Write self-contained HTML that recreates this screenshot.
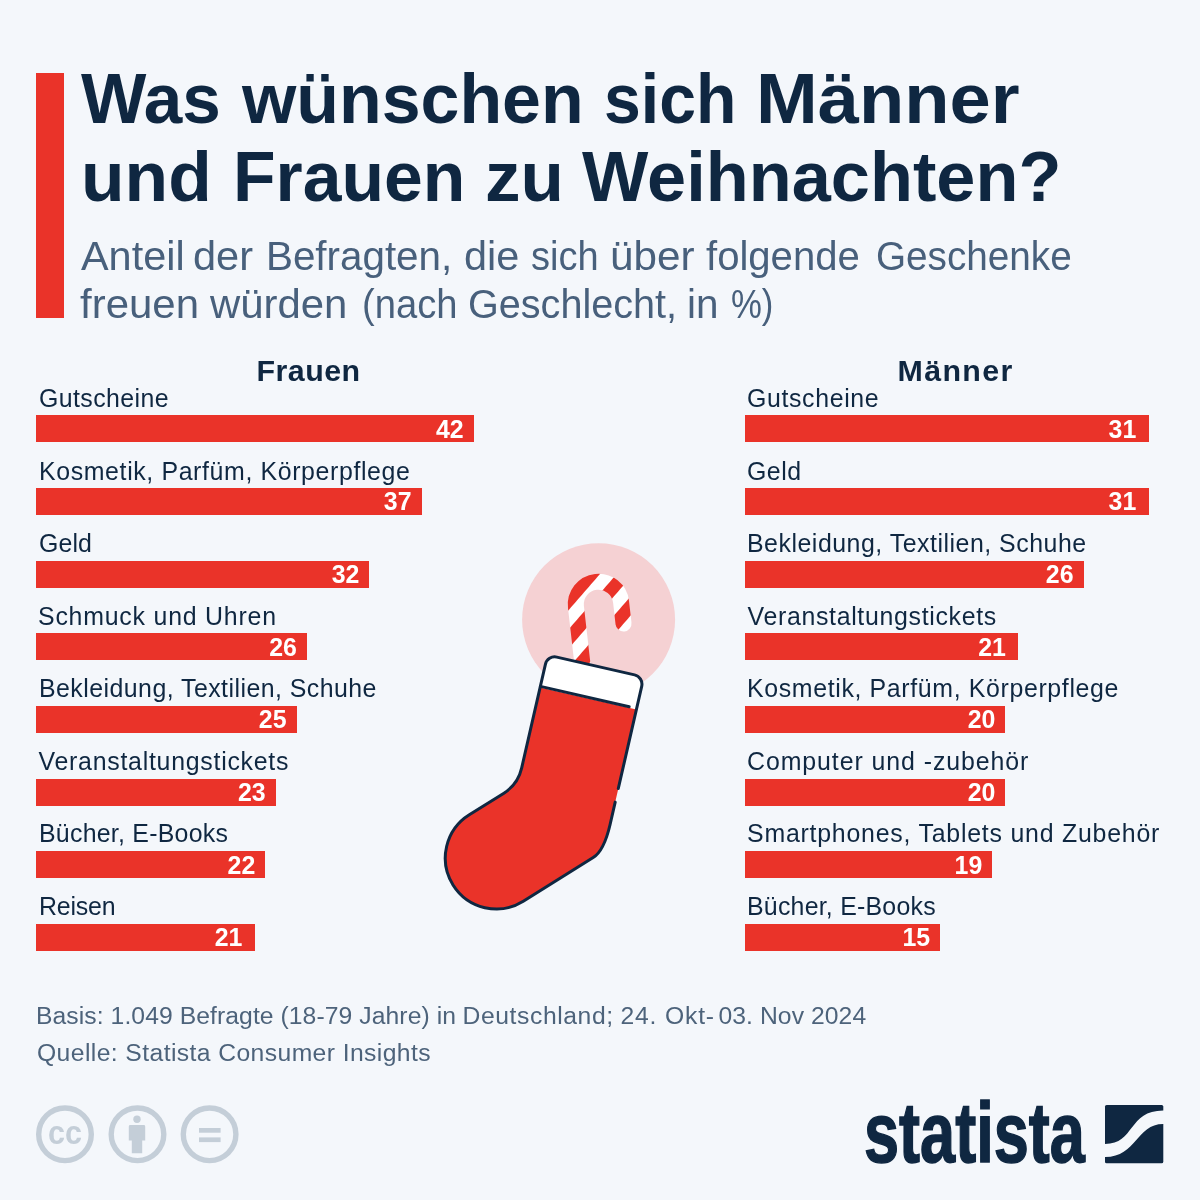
<!DOCTYPE html>
<html lang="de">
<head>
<meta charset="utf-8">
<title>Was wünschen sich Männer und Frauen zu Weihnachten?</title>
<style>
html,body{margin:0;padding:0;}
body{width:1200px;height:1200px;background:#f4f7fb;position:relative;overflow:hidden;
  font-family:"Liberation Sans",sans-serif;color:#0f2741;}
h1,h2,p{margin:0;padding:0;font-size:inherit;font-weight:inherit;}
.abs{position:absolute;white-space:nowrap;line-height:1;display:block;}
#accent{left:36px;top:73px;width:28px;height:244.5px;background:#ea3329;}
.title{font-weight:bold;color:#0f2741;transform-origin:0 0;}
.sub{color:#48607c;transform-origin:0 0;}
.head{font-weight:bold;color:#0f2741;}
.lbl{color:#0f2741;}
.bar{position:absolute;height:27px;background:#ea3329;}
.val{font-weight:bold;font-size:24.9px;color:#fff;}
.foot{color:#4d637b;}
</style>
</head>
<body>
<header>
<div id="accent" class="abs"></div>
<h1>
<span class="abs title" id="t1a" style="left:80.78px;top:63px;font-size:71.0px;transform:scaleX(0.9759)">Was </span>
<span class="abs title" id="t1b" style="left:242.00px;top:63px;font-size:71.0px;transform:scaleX(0.9840)">wünschen </span>
<span class="abs title" id="t1c" style="left:603.69px;top:63px;font-size:71.0px;transform:scaleX(0.9315)">sich </span>
<span class="abs title" id="t1d" style="left:756.29px;top:63px;font-size:71.0px;transform:scaleX(1.0435)">Männer </span>
<span class="abs title" id="t2a" style="left:80.77px;top:141px;font-size:71.0px;transform:scaleX(1.0050)">und </span>
<span class="abs title" id="t2b" style="left:233.08px;top:141px;font-size:71.0px;transform:scaleX(0.9814)">Frauen </span>
<span class="abs title" id="t2c" style="left:485.00px;top:141px;font-size:71.0px;transform:scaleX(1.0000)">zu </span>
<span class="abs title" id="t2d" style="left:582.00px;top:141px;font-size:71.0px;transform:scaleX(0.9906)">Weihnachten? </span>
</h1>
<p>
<span class="abs sub" id="s1a" style="left:80.50px;top:236px;font-size:40.8px;transform:scaleX(1.0152)">Anteil </span>
<span class="abs sub" id="s1b" style="left:192.97px;top:236px;font-size:40.8px;transform:scaleX(1.0175)">der </span>
<span class="abs sub" id="s1c" style="left:265.54px;top:236px;font-size:40.8px;transform:scaleX(0.9890)">Befragten, </span>
<span class="abs sub" id="s1d" style="left:464.47px;top:236px;font-size:40.8px;transform:scaleX(1.0147)">die </span>
<span class="abs sub" id="s1e" style="left:531.07px;top:236px;font-size:40.8px;transform:scaleX(0.9312)">sich </span>
<span class="abs sub" id="s1f" style="left:609.93px;top:236px;font-size:40.8px;transform:scaleX(1.0348)">über </span>
<span class="abs sub" id="s1g" style="left:705.51px;top:236px;font-size:40.8px;transform:scaleX(0.9821)">folgende </span>
<span class="abs sub" id="s1h" style="left:876.08px;top:236px;font-size:40.8px;transform:scaleX(0.9483)">Geschenke </span>
<span class="abs sub" id="s2a" style="left:80.49px;top:284px;font-size:40.8px;transform:scaleX(1.0288)">freuen </span>
<span class="abs sub" id="s2b" style="left:210.00px;top:284px;font-size:40.8px;transform:scaleX(1.0267)">würden </span>
<span class="abs sub" id="s2c" style="left:361.64px;top:284px;font-size:40.8px;transform:scaleX(0.9356)">(nach </span>
<span class="abs sub" id="s2d" style="left:468.06px;top:284px;font-size:40.8px;transform:scaleX(0.9702)">Geschlecht, </span>
<span class="abs sub" id="s2e" style="left:686.52px;top:284px;font-size:40.8px;transform:scaleX(0.9907)">in </span>
<span class="abs sub" id="s2f" style="left:731.15px;top:284px;font-size:40.8px;transform:scaleX(0.8511)">%) </span>
</p>
</header>
<main>
<section>
<h2><span class="abs head" id="hF" style="left:256.50px;top:355px;font-size:30.4px;letter-spacing:0.450px">Frauen</span></h2>
<div class="row">
<div class="abs lbl" id="Fl0" style="left:39.00px;top:386px;font-size:24.9px;letter-spacing:0.417px">Gutscheine</div>
<div class="bar" id="Fb0" style="left:36.0px;top:415.30px;width:437.64px"></div>
<div class="abs val" id="Fv0" style="right:736.36px;top:417px">42</div>
</div>
<div class="row">
<div class="abs lbl" id="Fl1" style="left:39.00px;top:459px;font-size:24.9px;letter-spacing:0.624px">Kosmetik, Parfüm, Körperpflege</div>
<div class="bar" id="Fb1" style="left:36.0px;top:487.98px;width:385.54px"></div>
<div class="abs val" id="Fv1" style="right:788.46px;top:489px">37</div>
</div>
<div class="row">
<div class="abs lbl" id="Fl2" style="left:39.00px;top:531px;font-size:24.9px;letter-spacing:0.100px">Geld</div>
<div class="bar" id="Fb2" style="left:36.0px;top:560.66px;width:333.44px"></div>
<div class="abs val" id="Fv2" style="right:840.56px;top:562px">32</div>
</div>
<div class="row">
<div class="abs lbl" id="Fl3" style="left:38.00px;top:604px;font-size:24.9px;letter-spacing:0.781px">Schmuck und Uhren</div>
<div class="bar" id="Fb3" style="left:36.0px;top:633.34px;width:270.92px"></div>
<div class="abs val" id="Fv3" style="right:903.08px;top:635px">26</div>
</div>
<div class="row">
<div class="abs lbl" id="Fl4" style="left:39.00px;top:676px;font-size:24.9px;letter-spacing:0.455px">Bekleidung, Textilien, Schuhe</div>
<div class="bar" id="Fb4" style="left:36.0px;top:706.02px;width:260.50px"></div>
<div class="abs val" id="Fv4" style="right:913.50px;top:707px">25</div>
</div>
<div class="row">
<div class="abs lbl" id="Fl5" style="left:38.50px;top:749px;font-size:24.9px;letter-spacing:0.738px">Veranstaltungstickets</div>
<div class="bar" id="Fb5" style="left:36.0px;top:778.70px;width:239.66px"></div>
<div class="abs val" id="Fv5" style="right:934.34px;top:780px">23</div>
</div>
<div class="row">
<div class="abs lbl" id="Fl6" style="left:39.00px;top:821px;font-size:24.9px;letter-spacing:0.250px">Bücher, E-Books</div>
<div class="bar" id="Fb6" style="left:36.0px;top:851.38px;width:229.24px"></div>
<div class="abs val" id="Fv6" style="right:944.76px;top:853px">22</div>
</div>
<div class="row">
<div class="abs lbl" id="Fl7" style="left:39.00px;top:894px;font-size:24.9px;letter-spacing:-0.180px">Reisen</div>
<div class="bar" id="Fb7" style="left:36.0px;top:924.06px;width:218.82px"></div>
<div class="abs val" id="Fv7" style="right:957.68px;top:925px">21</div>
</div>
</section>
<section>
<h2><span class="abs head" id="hM" style="left:897.50px;top:355px;font-size:30.4px;letter-spacing:1.350px">Männer</span></h2>
<div class="row">
<div class="abs lbl" id="Ml0" style="left:747.00px;top:386px;font-size:24.9px;letter-spacing:0.633px">Gutscheine</div>
<div class="bar" id="Mb0" style="left:744.5px;top:415.30px;width:404.24px"></div>
<div class="abs val" id="Mv0" style="right:63.76px;top:417px">31</div>
</div>
<div class="row">
<div class="abs lbl" id="Ml1" style="left:747.00px;top:459px;font-size:24.9px;letter-spacing:0.500px">Geld</div>
<div class="bar" id="Mb1" style="left:744.5px;top:487.98px;width:404.24px"></div>
<div class="abs val" id="Mv1" style="right:63.76px;top:489px">31</div>
</div>
<div class="row">
<div class="abs lbl" id="Ml2" style="left:747.00px;top:531px;font-size:24.9px;letter-spacing:0.514px">Bekleidung, Textilien, Schuhe</div>
<div class="bar" id="Mb2" style="left:744.5px;top:560.66px;width:339.04px"></div>
<div class="abs val" id="Mv2" style="right:126.46px;top:562px">26</div>
</div>
<div class="row">
<div class="abs lbl" id="Ml3" style="left:747.50px;top:604px;font-size:24.9px;letter-spacing:0.677px">Veranstaltungstickets</div>
<div class="bar" id="Mb3" style="left:744.5px;top:633.34px;width:273.84px"></div>
<div class="abs val" id="Mv3" style="right:194.16px;top:635px">21</div>
</div>
<div class="row">
<div class="abs lbl" id="Ml4" style="left:747.00px;top:676px;font-size:24.9px;letter-spacing:0.641px">Kosmetik, Parfüm, Körperpflege</div>
<div class="bar" id="Mb4" style="left:744.5px;top:706.02px;width:260.80px"></div>
<div class="abs val" id="Mv4" style="right:204.70px;top:707px">20</div>
</div>
<div class="row">
<div class="abs lbl" id="Ml5" style="left:747.00px;top:749px;font-size:24.9px;letter-spacing:0.925px">Computer und -zubehör</div>
<div class="bar" id="Mb5" style="left:744.5px;top:778.70px;width:260.80px"></div>
<div class="abs val" id="Mv5" style="right:204.70px;top:780px">20</div>
</div>
<div class="row">
<div class="abs lbl" id="Ml6" style="left:747.00px;top:821px;font-size:24.9px;letter-spacing:0.774px">Smartphones, Tablets und Zubehör</div>
<div class="bar" id="Mb6" style="left:744.5px;top:851.38px;width:247.76px"></div>
<div class="abs val" id="Mv6" style="right:217.74px;top:853px">19</div>
</div>
<div class="row">
<div class="abs lbl" id="Ml7" style="left:747.00px;top:894px;font-size:24.9px;letter-spacing:0.229px">Bücher, E-Books</div>
<div class="bar" id="Mb7" style="left:744.5px;top:924.06px;width:195.60px"></div>
<div class="abs val" id="Mv7" style="right:269.90px;top:925px">15</div>
</div>
</section>
<svg id="art" class="abs" style="left:0;top:0" width="1200" height="1200" viewBox="0 0 1200 1200">
<defs>
<pattern id="stripes" patternUnits="userSpaceOnUse" width="25.2" height="25.2" patternTransform="rotate(6.5) translate(-598.5,-604.4) rotate(41) translate(10.4,0)">
<rect x="0" y="0" width="25.2" height="25.2" fill="#fff"/>
<rect x="0" y="0" width="12.6" height="25.2" fill="#ea3329"/>
</pattern>
</defs>
<circle cx="598.6" cy="619.7" r="76.5" fill="#f5d1d3"/>
<g transform="translate(598.5,604.4) rotate(-6.5)">
<path d="M-22.7,70 L-22.7,0 A22.7,22.7 0 0 1 22.7,0 L22.7,21.8" fill="none" stroke="url(#stripes)" stroke-width="16.0" stroke-linecap="round"/>
</g>
<path d="M610.1,824.5 Q604.0,850.8 593.2,857.6 L523.3,901.3 A51.0,51.0 0 0 1 469.3,814.7 L503.5,793.4 Q517.9,784.4 521.7,767.8 L545.4,664.3 A9.5,9.5 0 0 1 556.8,657.1 L634.6,674.9 A9.5,9.5 0 0 1 641.7,686.3 Z" fill="#ea3329"/>
<path d="M540.4,686.4 L545.4,664.3 A9.5,9.5 0 0 1 556.8,657.1 L634.6,674.9 A9.5,9.5 0 0 1 641.7,686.3 L636.4,709.6 L540.1,687.5 Z" fill="#fff"/>
<path d="M540.4,686.4 L629.2,706.7" fill="none" stroke="#0f2741" stroke-width="3.0" stroke-linecap="round"/>
<path d="M615.2,802.1 L610.1,824.5 Q604.0,850.8 593.2,857.6 L523.3,901.3 A51.0,51.0 0 0 1 469.3,814.7 L503.5,793.4 Q517.9,784.4 521.7,767.8 L545.4,664.3 A9.5,9.5 0 0 1 556.8,657.1 L634.6,674.9 A9.5,9.5 0 0 1 641.7,686.3 L618.3,788.5" fill="none" stroke="#0f2741" stroke-width="3.0" stroke-linecap="round" stroke-linejoin="round"/>

<!-- creative commons icons -->
<g fill="none" stroke="#c4ced8" stroke-width="5.4">
<circle cx="65" cy="1134.3" r="26.3"/>
<circle cx="137.5" cy="1134.3" r="26.3"/>
<circle cx="209.6" cy="1134.3" r="26.3"/>
</g>
<text transform="translate(65,1144) scale(0.9,1)" text-anchor="middle" font-family="Liberation Sans, sans-serif" font-weight="bold" font-size="34" fill="#c4ced8">cc</text>
<g fill="#c4ced8">
<circle cx="137" cy="1119.2" r="3.7"/>
<path d="M130.2,1125 h13.6 a1.4,1.4 0 0 1 1.4,1.4 v14.2 h-3 v12.6 h-10.4 v-12.6 h-3 v-14.2 a1.4,1.4 0 0 1 1.4,-1.4 z"/>
<rect x="199" y="1128" width="21.6" height="4.7"/>
<rect x="199" y="1137.4" width="21.6" height="4.7"/>
</g>

<!-- statista logo mark -->
<rect x="1105" y="1105" width="58.3" height="58.3" rx="1.6" fill="#0f2741"/>
<path d="M1104,1144 L1105,1144 C1135,1144 1128,1110.5 1163.3,1110.5 L1165,1110.5 L1165,1124 L1163.3,1124 C1136,1124 1137,1157 1105,1157 L1104,1157 Z" fill="#f4f7fb"/>
</svg>

</main>
<footer>
<p><span class="abs foot" id="f1a" style="left:36.00px;top:1004px;font-size:24.7px;letter-spacing:0.075px">Basis: 1.049 Befragte </span>
<span class="abs foot" id="f1b" style="left:280.50px;top:1004px;font-size:24.7px;letter-spacing:0.083px">(18-79 Jahre) in </span>
<span class="abs foot" id="f1c" style="left:462.50px;top:1004px;font-size:24.7px;letter-spacing:0.591px">Deutschland; </span>
<span class="abs foot" id="f1d" style="left:620.50px;top:1004px;font-size:24.7px;letter-spacing:0.821px">24. Okt- </span>
<span class="abs foot" id="f1e" style="left:718.50px;top:1004px;font-size:24.7px;letter-spacing:0.068px">03. Nov 2024 </span></p>
<p><span class="abs foot" id="f2" style="left:37.00px;top:1041px;font-size:24.7px;letter-spacing:0.409px">Quelle: Statista Consumer Insights </span></p>
<div class="abs" id="logo" style="left:864px;top:1090.3px;font-weight:bold;font-size:85px;color:#0f2741;-webkit-text-stroke:1.5px #0f2741;transform:scaleX(0.742);transform-origin:0 0;">statista</div>
</footer>
</body>
</html>
